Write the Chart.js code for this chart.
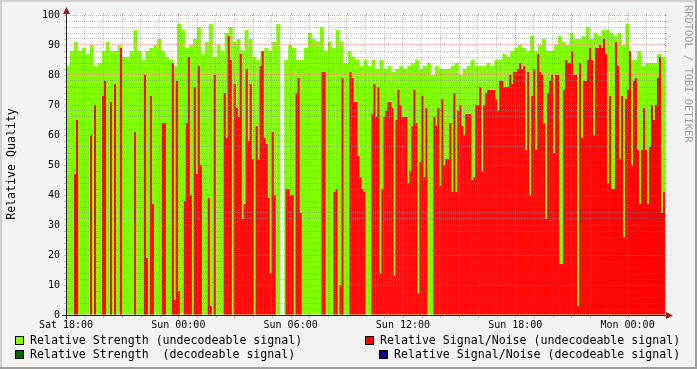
<!DOCTYPE html>
<html>
<head>
<meta charset="utf-8">
<script src="https://cdn.jsdelivr.net/npm/chart.js@4.4.0/dist/chart.umd.min.js"></script>
<style>
html, body { margin: 0; padding: 0; background: #f3f3f3; }
</style>
</head>
<body>
<canvas id="myChart" width="697" height="369"></canvas>
<script>
// 32 hours from Sat 18:00; strength read in 150 steps, signal/noise in 300 steps
var hoursTotal = 32;
var xTickHours = [0, 6, 12, 18, 24, 30];
var xTickLabels = ["Sat 18:00", "Sun 00:00", "Sun 06:00", "Sun 12:00", "Sun 18:00", "Mon 00:00"];

var strengthUndec = [
  83, 88, 91, 88, 89, 87, 90, 83, 84, 88, 91, 88, 88, 90, 86, 86, 88, 95, 88, 85, 88, 89, 90, 92, 88,
  86, 85, 83, 97, 95, 89, 90, 92, 96, 87, 91, 97, 86, 90, 88, 94, 96, 91, 92, 88, 95, 92, 86, 85, 88, 89,
  88, 91, 97, null, 85, 90, 89, 85, 85, 89, 94, 92, 91, 96, 88, 91, 89, 95, 91, 84, 88, 86, 85, 83, 85, 83,
  85, 82, 85, 82, 83, 81, 82, 83, 82, 83, 84, 85, 82, 83, 84, 80, 83, 82, 82, 82, 83, 84, 80, 82, 83, 85,
  83, 83, 83, 84, 83, 85, 85, 87, 86, 88, 89, 90, 89, 88, 93, 88, 90, 92, 88, 88, 90, 93, 91, 90, 94,
  92, 92, 93, 96, 92, 94, 93, 95, 95, 94, 93, 94, 90, 97, 85, 85, 88, 83, 84, 84, 84, 87, 86
];
var snUndec = [
  0, 0, 0, 0, 47, 65, 0, 0, 0, 0, 0, 0, 60, 0, 70, 0, 0, 0, 73, 78,
  0, 0, 71, 0, 77, 0, 0, 89, 0, 0, 0, 0, 0, 0, 61, 0, 0, 0, 0, 80,
  19, 0, 73, 37, 0, 0, 0, 0, 64, 64, 0, 0, 0, 84, 5, 78, 8, 0, 0, 38,
  64, 86, 40, 0, 76, 47, 83, 50, 0, 0, 0, 39, 3, 0, 80, 0, 0, 0, 0, 74,
  59, 93, 85, 0, 77, 69, 66, 87, 32, 37, 82, 58, 77, 52, 0, 63, 52, 83, 88, 59,
  57, 39, 14, 61, 40, 0, 0, 0, 0, 0, 42, 42, 40, 40, 0, 74, 79, 34, 0, 0,
  0, 0, 0, 0, 0, 0, 0, 0, 81, 81, 0, 0, 0, 0, 41, 42, 0, 10, 79, 0,
  0, 0, 81, 79, 71, 71, 53, 46, 42, 41, 0, 0, 0, 67, 77, 66, 76, 14, 42, 66,
  68, 71, 71, 69, 13, 65, 75, 70, 66, 66, 66, 44, 48, 63, 75, 64, 7, 51, 73, 46,
  69, 0, 0, 0, 66, 63, 69, 43, 72, 50, 52, 52, 64, 41, 74, 41, 68, 70, 63, 60,
  67, 67, 67, 45, 46, 70, 70, 76, 48, 70, 74, 75, 75, 75, 75, 72, 68, 78, 78, 76,
  76, 76, 80, 77, 81, 81, 82, 84, 82, 83, 55, 81, 40, 73, 82, 55, 87, 81, 80, 64,
  32, 74, 78, 80, 54, 80, 80, 17, 17, 75, 85, 84, 84, 88, 80, 80, 3, 84, 59, 78,
  78, 85, 89, 85, 60, 89, 89, 90, 89, 92, 87, 44, 73, 42, 42, 91, 83, 52, 73, 26,
  72, 75, 88, 50, 78, 79, 55, 37, 55, 69, 55, 37, 56, 70, 65, 70, 79, 86, 34, 41
];
var strengthDec = [];
var snDec = [];

var legendNames = [
  "Relative Strength (undecodeable signal)",
  "Relative Strength  (decodeable signal)",
  "Relative Signal/Noise (undecodeable signal)",
  "Relative Signal/Noise (decodeable signal)"
];
var colors = ["#80ff00", "#006600", "#ff0000", "#000090"];

var GRID = "rgba(128,128,128,0.45)";
var MGRID = "rgba(240,110,110,0.6)";
var MONO = "'DejaVu Sans Mono', monospace";

function toPoints(arr) {
  var step = hoursTotal / arr.length;
  return arr.map(function (v, i) { return { x: (i + 0.5) * step, y: v }; });
}

var bgPlugin = {
  id: "bg",
  beforeDraw: function (chart) {
    var ctx = chart.ctx, a = chart.chartArea;
    ctx.save();
    ctx.fillStyle = "#f3f3f3";
    ctx.fillRect(0, 0, 697, 369);
    ctx.fillStyle = "#cfcfcf";
    ctx.fillRect(0, 0, 697, 2);
    ctx.fillRect(0, 0, 2, 369);
    ctx.fillStyle = "#9e9e9e";
    ctx.fillRect(0, 367, 697, 2);
    ctx.fillRect(695, 0, 2, 369);
    ctx.fillStyle = "#ffffff";
    ctx.fillRect(a.left, a.top, a.right - a.left, a.bottom - a.top);
    ctx.restore();
  }
};

var decoPlugin = {
  id: "deco",
  afterDraw: function (chart) {
    var ctx = chart.ctx, a = chart.chartArea;
    var xs = chart.scales.x, ys = chart.scales.y;
    ctx.save();
    // small tick marks on the frame
    for (var v = 0; v <= 100; v += 2) {
      var py = Math.round(ys.getPixelForValue(v));
      ctx.fillStyle = v % 10 === 0 ? MGRID : GRID;
      ctx.fillRect(a.left - 2, py, 2, 1);
      ctx.fillRect(a.right, py, 2, 1);
    }
    for (var h = 0; h <= hoursTotal; h++) {
      var px = Math.round(xs.getPixelForValue(h));
      ctx.fillStyle = h % 3 === 0 ? MGRID : GRID;
      ctx.fillRect(px, a.bottom + 1, 1, 2);
      ctx.fillRect(px, a.top - 2, 1, 2);
    }
    // axes
    ctx.fillStyle = "#222222";
    ctx.fillRect(a.left, 9, 1, a.bottom - 9 + 4);
    ctx.fillRect(a.left - 4, a.bottom, a.right - a.left + 11, 1);
    // arrows
    ctx.fillStyle = "#8b1a1a";
    ctx.beginPath();
    ctx.moveTo(a.left - 3, 14); ctx.lineTo(a.left + 4, 14); ctx.lineTo(a.left + 0.5, 7);
    ctx.closePath(); ctx.fill();
    ctx.beginPath();
    ctx.moveTo(a.right + 1, a.bottom - 3); ctx.lineTo(a.right + 1, a.bottom + 4); ctx.lineTo(a.right + 8, a.bottom + 0.5);
    ctx.closePath(); ctx.fill();

    // axis title
    ctx.fillStyle = "#000";
    ctx.font = "11.6px " + MONO;
    ctx.textAlign = "center";
    ctx.textBaseline = "middle";
    ctx.save();
    ctx.translate(12, 164);
    ctx.rotate(-Math.PI / 2);
    ctx.fillText("Relative Quality", 0, 0);
    ctx.restore();

    // legend
    var items = [
      { bx: 15, tx: 30, y: 341, i: 0 },
      { bx: 15, tx: 30, y: 355, i: 1 },
      { bx: 365, tx: 380, y: 341, i: 2 },
      { bx: 379, tx: 394, y: 355, i: 3 }
    ];
    ctx.textAlign = "left";
    items.forEach(function (it) {
      ctx.fillStyle = colors[it.i];
      ctx.fillRect(it.bx, it.y - 5, 9, 9);
      ctx.strokeStyle = "#000";
      ctx.lineWidth = 1;
      ctx.strokeRect(it.bx + 0.5, it.y - 4.5, 8, 8);
      ctx.fillStyle = "#000";
      ctx.fillText(legendNames[it.i], it.tx, it.y);
    });

    // watermark
    ctx.save();
    ctx.translate(688, 5);
    ctx.rotate(Math.PI / 2);
    ctx.fillStyle = "#a0a0a0";
    ctx.font = "10.4px " + MONO;
    ctx.textAlign = "left";
    ctx.fillText("RRDTOOL / TOBI OETIKER", 0, 0);
    ctx.restore();
    ctx.restore();
  }
};

new Chart("myChart", {
  type: "bar",
  data: {
    datasets: [
      { label: legendNames[2], data: toPoints(snUndec), backgroundColor: colors[2], barThickness: 2, order: 1 },
      { label: legendNames[3], data: toPoints(snDec), backgroundColor: colors[3], barThickness: 2, order: 2 },
      { label: legendNames[1], data: toPoints(strengthDec), backgroundColor: colors[1], barThickness: 2, order: 3 },
      { label: legendNames[0], data: toPoints(strengthUndec), backgroundColor: colors[0], barThickness: 4, order: 4 }
    ]
  },
  options: {
    responsive: false,
    animation: false,
    events: [],
    layout: { padding: { left: 0, top: 15, right: 32, bottom: 0 } },
    datasets: {
      bar: { grouped: false, barPercentage: 1, categoryPercentage: 1, borderWidth: 0, inflateAmount: 0 }
    },
    scales: {
      x: {
        type: "linear",
        min: 0,
        max: hoursTotal,
        offset: false,
        afterFit: function (s) { s.height = 54; },
        grid: {
          offset: false,
          z: 1,
          drawTicks: false,
          color: function (c) { return c.tick && c.tick.value % 3 === 0 ? MGRID : GRID; }
        },
        border: { display: false, dash: [1, 1] },
        ticks: {
          stepSize: 1,
          autoSkip: false,
          maxRotation: 0,
          padding: 4,
          color: "#000",
          font: { family: "DejaVu Sans Mono", size: 10 },
          callback: function (v) {
            var k = xTickHours.indexOf(v);
            return k >= 0 ? xTickLabels[k] : "";
          }
        }
      },
      y: {
        min: 0,
        max: 100,
        afterFit: function (s) { s.width = 66; },
        grid: {
          z: 1,
          drawTicks: false,
          color: function (c) { return c.tick && c.tick.value % 10 === 0 ? MGRID : GRID; }
        },
        border: { display: false, dash: [1, 1] },
        ticks: {
          stepSize: 2,
          autoSkip: false,
          padding: 6,
          color: "#000",
          font: { family: "DejaVu Sans Mono", size: 10 },
          callback: function (v) { return v % 10 === 0 ? String(v) : ""; }
        }
      }
    },
    plugins: {
      legend: { display: false },
      tooltip: { enabled: false }
    }
  },
  plugins: [bgPlugin, decoPlugin]
});
</script>
</body>
</html>
